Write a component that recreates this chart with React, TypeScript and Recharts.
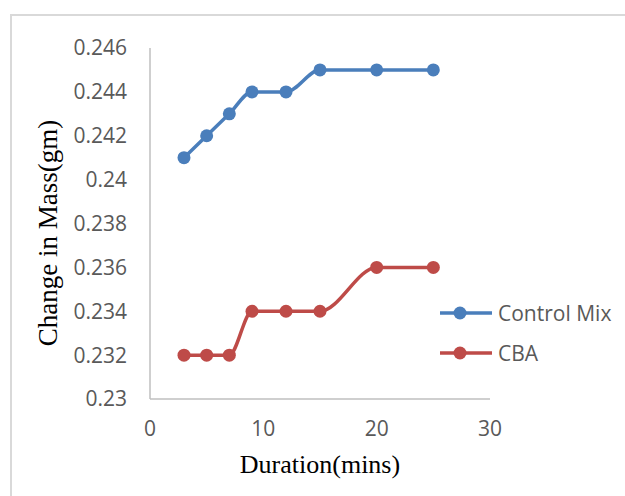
import { LineChart, Line, XAxis, YAxis } from "recharts";

const durations = [3, 5, 7, 9, 12, 15, 20, 25];
const controlMix = [0.241, 0.242, 0.243, 0.244, 0.244, 0.245, 0.245, 0.245];
const cba = [0.232, 0.232, 0.232, 0.234, 0.234, 0.234, 0.236, 0.236];
const xTicks = [0, 10, 20, 30];
const yTicks = [0.23, 0.232, 0.234, 0.236, 0.238, 0.24, 0.242, 0.244, 0.246];

const series = [
  { key: "control", name: "Control Mix", color: "#4a7ebb" },
  { key: "cba", name: "CBA", color: "#be4b48" },
];

const data = durations.map((d, i) => ({ duration: d, control: controlMix[i], cba: cba[i] }));

const tickStyle = { fill: "#595959", fontSize: 21, fontFamily: "Open Sans" };
const axisColor = "#bfbfbf";

const fmtY = (v: number) => String(Number(v.toFixed(3)));

function LegendBox() {
  return (
    <div style={{ position: "absolute", left: 438, top: 293, fontFamily: "Open Sans", fontSize: 21, color: "#595959" }}>
      {series.map((s) => (
        <div key={s.key} style={{ display: "flex", alignItems: "center", height: 40 }}>
          <svg width={56} height={16} style={{ marginRight: 4 }}>
            <line x1={2} y1={8} x2={54} y2={8} stroke={s.color} strokeWidth={3.5} />
            <circle cx={22} cy={8} r={6.5} fill={s.color} />
          </svg>
          <span>{s.name}</span>
        </div>
      ))}
    </div>
  );
}

export default function App() {
  return (
    <div style={{ position: "absolute", left: 0, top: 0, width: 625, height: 496, overflow: "hidden", background: "#fff" }}>
      <div style={{ position: "absolute", left: 10, top: 14, width: 700, height: 600, border: "2px solid #d9d9d9" }} />
      <LineChart width={625} height={496} data={data} margin={{ top: 48, right: 135, bottom: 67, left: 0 }}>
        <XAxis
          dataKey="duration"
          type="number"
          domain={[0, 30]}
          ticks={xTicks}
          tick={tickStyle}
          tickLine={false}
          tickSize={0}
          tickMargin={22}
          height={30}
          axisLine={{ stroke: axisColor, strokeWidth: 1.5 }}
        />
        <YAxis
          type="number"
          domain={[0.23, 0.246]}
          ticks={yTicks}
          tickFormatter={fmtY}
          tick={tickStyle}
          tickLine={false}
          tickSize={0}
          tickMargin={23}
          width={150}
          axisLine={{ stroke: axisColor, strokeWidth: 1.5 }}
        />
        {series.map((s) => (
          <Line
            key={s.key}
            type="monotone"
            dataKey={s.key}
            name={s.name}
            stroke={s.color}
            strokeWidth={3.5}
            dot={{ r: 6.5, fill: s.color, stroke: s.color, strokeWidth: 0 }}
            isAnimationActive={false}
          />
        ))}
      </LineChart>
      <LegendBox />
      <div style={{ position: "absolute", left: 0, top: 450, width: 640, textAlign: "center", fontFamily: "Liberation Serif", fontSize: 26, lineHeight: "30px", color: "#000" }}>
        Duration(mins)
      </div>
      <div
        style={{
          position: "absolute", left: -102, top: 218, width: 300, textAlign: "center",
          fontFamily: "Liberation Serif", fontSize: 27, lineHeight: "30px", color: "#000",
          transform: "rotate(-90deg)",
        }}
      >
        Change in Mass(gm)
      </div>
    </div>
  );
}
